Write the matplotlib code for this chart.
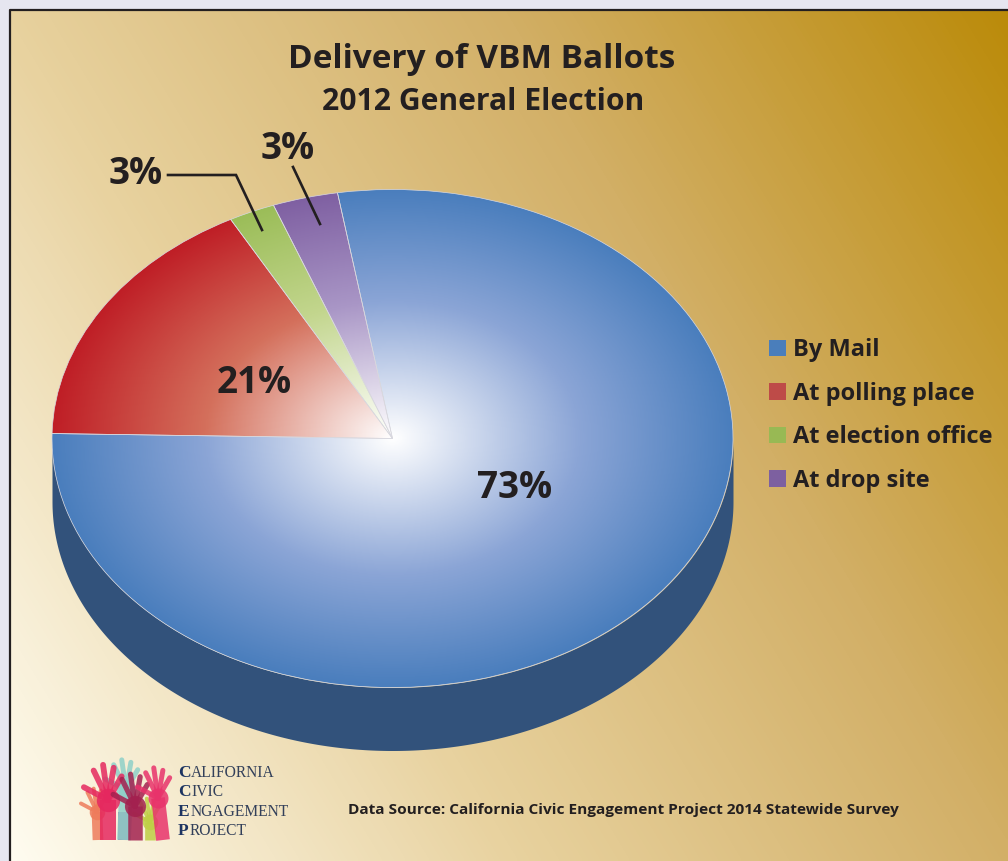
import numpy as np
import matplotlib.pyplot as plt
from matplotlib.colors import LinearSegmentedColormap
from matplotlib.patches import Patch

W, H = 1008, 861

categories = ["By Mail", "At polling place", "At election office", "At drop site"]
# printed labels
labels = ["73%", "21%", "3%", "3%"]
# slice sizes as drawn, measured on the picture (the 3D tilt squeezes them)
drawn_shares = [77.9, 16.8, 2.2, 3.1]
start_angle = 99.3

rim_colors = ["#4a7ebd", "#bf1e26", "#9bbd58", "#7f60a2"]
mid_colors = ["#8ba5d6", "#d4705c", "#c3d68e", "#a996c6"]
legend_colors = ["#4a7ebb", "#be4b48", "#98b954", "#7d60a0"]
side_color = "#32527b"
text_color = "#231f20"

title = "Delivery of VBM Ballots"
subtitle = "2012 General Election"
source = "Data Source: California Civic Engagement Project 2014 Statewide Survey"

# pie geometry in pixels
cx, cy = 392.5, 438.5
rx, ry = 340.5, 249.0
depth = 63.0 / ry

plt.rcParams["font.family"] = ["Open Sans", "DejaVu Sans"]
fig = plt.figure(figsize=(W / 100, H / 100), dpi=100)
fig.patch.set_facecolor("#e6e6f0")

# background layer in pixel coordinates
bg = fig.add_axes([0, 0, 1, 1], zorder=0)
bg.axis("off")
xx, yy = np.meshgrid(np.linspace(0, 1, 300), np.linspace(0, 1, 260))
t = 0.66 * xx + 0.34 * (1 - yy)
bg_cmap = LinearSegmentedColormap.from_list(
    "bg", ["#fffcf0", "#e8d29f", "#d2af66", "#bb8b0a"])
bg.imshow(t, extent=(9, W, H, 9), cmap=bg_cmap, vmin=0, vmax=1,
          aspect="auto", interpolation="bilinear")
bg.set_xlim(0, W)
bg.set_ylim(H, 0)
bg.plot([9.5, 9.5, W], [H, 9.5, 9.5], color="#231f20", lw=1.6)

# pie layer, one unit = pie radius
ax = fig.add_axes([0, 0, 1, 1], zorder=1)
ax.patch.set_alpha(0)
wedges, _ = ax.pie(drawn_shares, startangle=start_angle, counterclock=False, radius=1)
ax.set_aspect("auto")

theta = np.linspace(np.pi, 2 * np.pi, 400)
ax.fill_between(np.cos(theta), np.sin(theta), np.sin(theta) - depth,
                color=side_color, lw=0, zorder=0.5)

gx, gy = np.meshgrid(np.linspace(-1.02, 1.02, 500), np.linspace(-1.02, 1.02, 500))
radius = np.sqrt(gx ** 2 + gy ** 2)
for w, rim, mid in zip(wedges, rim_colors, mid_colors):
    cmap = LinearSegmentedColormap.from_list("s", [(0, "#ffffff"), (0.55, mid), (1, rim)])
    im = ax.imshow(radius, extent=(-1.02, 1.02, -1.02, 1.02), origin="lower", cmap=cmap,
                   vmin=0, vmax=1, aspect="auto", zorder=1, interpolation="bilinear")
    im.set_clip_path(w)
    w.set_facecolor("none")
    w.set_edgecolor("#d8d8e0")
    w.set_linewidth(0.5)
    w.set_zorder(2)
ax.set_xlim(-cx / rx, (W - cx) / rx)
ax.set_ylim((cy - H) / ry, cy / ry)

# overlay in pixel coordinates
top = fig.add_axes([0, 0, 1, 1], zorder=2)
top.patch.set_alpha(0)
top.set_xlim(0, W)
top.set_ylim(H, 0)
top.axis("off")

top.plot([168, 236, 262], [175, 175, 230], color=text_color, lw=1.9, solid_joinstyle="miter")
top.plot([293, 320], [167, 224], color=text_color, lw=1.9)

top.text(482, 60, title, ha="center", va="center", fontsize=24, fontweight="bold", color=text_color)
top.text(483, 102, subtitle, ha="center", va="center", fontsize=21.7, fontweight="bold", color=text_color)
for lab, px, py in zip(labels, [515, 254, 136, 288], [488, 383, 174, 149]):
    top.text(px, py, lab, ha="center", va="center", fontsize=26.5, fontweight="bold", color=text_color)
top.text(348, 810, source, ha="left", va="center", fontsize=11.1, fontweight="bold", color=text_color)

handles = [Patch(facecolor=c, edgecolor="none", label=n) for c, n in zip(legend_colors, categories)]
top.legend(handles=handles, loc="upper left", bbox_to_anchor=(762 / W, 1 - 331 / H),
           bbox_transform=fig.transFigure, frameon=False,
           handlelength=0.7, handleheight=0.7, handletextpad=0.33, labelspacing=0.83,
           borderpad=0.3, borderaxespad=0, labelcolor=text_color, prop={"weight": "bold", "size": 17})


# logo
def hand(x0, y0, px, py, size, color, alpha=0.85):
    top.plot([x0, px], [y0, py], color=color, lw=size * 0.55, alpha=alpha, solid_capstyle="butt")
    top.plot([px], [py], "o", ms=size * 0.8, color=color, alpha=alpha, mew=0)
    for ang, ln in zip([-62, -26, -8, 10, 30], [1.0, 1.2, 1.3, 1.2, 1.0]):
        a = np.radians(ang)
        top.plot([px, px + size * 1.3 * ln * np.sin(a)], [py, py - size * 1.3 * ln * np.cos(a)],
                 color=color, lw=size * 0.2, alpha=alpha, solid_capstyle="round")


hand(98, 840, 97, 812, 14, "#ee7b5b")
hand(124, 840, 126, 790, 18, "#8fd0c8")
hand(108, 840, 108, 800, 21, "#e5285f")
hand(150, 840, 150, 822, 14, "#bfcf45")
hand(135, 840, 135, 806, 19, "#a3214f")
hand(163, 840, 158, 798, 18, "#e8336b")
top.fill_between([118, 130], [840, 840], [812, 812], color="#6a3d8f", alpha=0.7, lw=0)

navy = "#1d3461"
logo_words = ["California", "Civic", "Engagement", "Project"]
for word, py in zip(logo_words, [773, 792, 812, 831]):
    t1 = top.text(178, py, word[0], ha="left", va="center", fontsize=12.5, color=navy,
                  family="Liberation Serif", fontweight="bold")
    fig.canvas.draw()
    bb = t1.get_window_extent()
    top.text(bb.x1 + 0.5, py, word[1:].upper(), ha="left", va="center", fontsize=11.2,
             color="#33405a", family="Liberation Serif")

fig.savefig("out.png", dpi=100)
